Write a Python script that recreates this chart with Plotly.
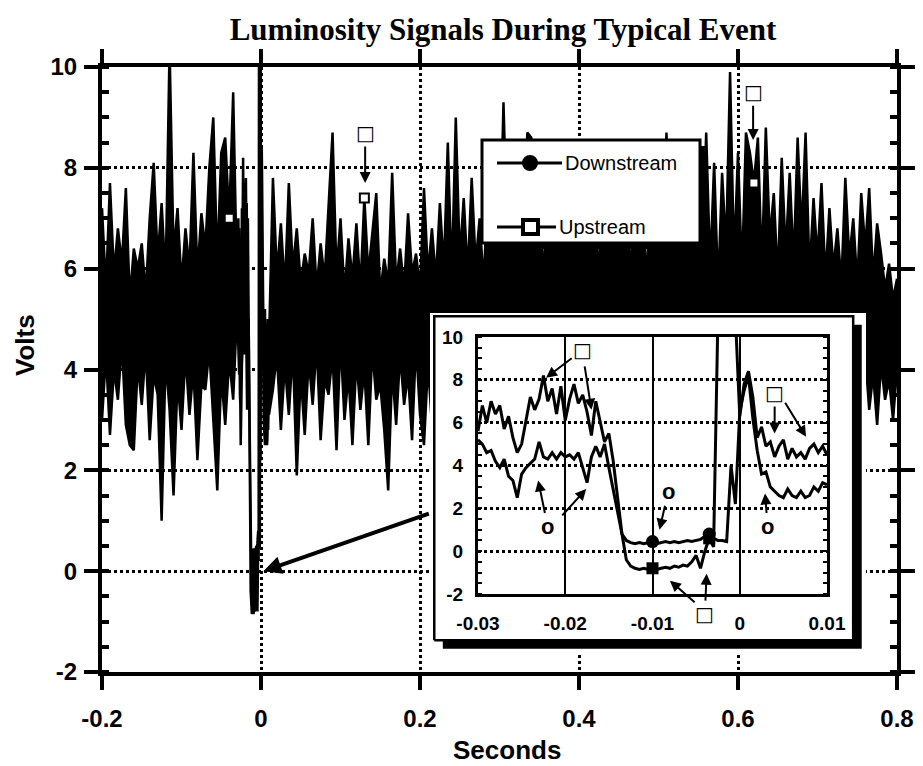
import numpy as np
import plotly.graph_objects as go

# sampling of the long record and of the zoomed window
STEP = 0.005
FINE_STEP = 0.0005

# -0.200 .. -0.035 s
up_left = [7.2, 5.6, 7.7, 5.9, 6.8, 6.1, 7.6, 5.4, 6.4, 6.0,
           6.5, 5.5, 7.0, 8.1, 6.2, 7.3, 5.8, 10.4, 6.3, 7.2,
           5.7, 6.8, 6.0, 8.3, 5.9, 7.1, 6.4, 8.0, 9.0, 6.1,
           8.3, 8.6, 7.0, 9.5]
down_left = [3.0, 4.3, 2.7, 4.0, 3.4, 4.5, 2.9, 2.5, 2.4, 4.1,
             3.3, 4.4, 2.6, 3.9, 3.5, 1.0, 4.2, 3.2, 1.5, 3.8,
             2.8, 4.3, 3.1, 4.0, 2.2, 3.7, 3.6, 4.4, 3.0, 1.6,
             3.9, 2.9, 4.2, 3.4]

# -0.030 .. 0.010 s (also shown in the inset), 11 = off scale
up_zoom = [5.6, 6.8, 6.0, 7.0, 6.4, 6.8, 5.7, 6.3, 5.3, 4.6,
           5.0, 6.1, 7.2, 6.6, 7.1, 8.2, 7.0, 7.6, 6.4, 7.7,
           6.1, 7.1, 7.8, 6.9, 7.3, 6.5, 5.4, 7.0, 6.0, 5.1,
           5.5, 4.2, 2.5, 0.8, -0.4, -0.7, -0.8, -0.85, -0.8, -0.85,
           -0.8, -0.85, -0.8, -0.75, -0.8, -0.7, -0.75, -0.65, -0.7, -0.5,
           -0.2, -0.8, 0.0, 0.6, 0.2, 11.0, 11.0, 11.0, 11.0, 11.0,
           6.3, 7.8, 8.4, 7.2, 5.3, 5.8, 4.9, 5.1, 4.4, 4.9,
           5.2, 4.3, 4.8, 4.4, 4.6, 4.3, 4.8, 5.0, 4.6, 4.9,
           4.5]
down_zoom = [5.2, 5.0, 4.6, 4.7, 4.2, 3.9, 4.3, 3.5, 3.3, 2.5,
             3.6, 3.9, 4.1, 4.3, 5.1, 4.4, 4.3, 4.6, 4.3, 4.6,
             4.4, 4.5, 4.3, 4.6, 3.9, 3.2, 4.4, 4.9, 4.4, 5.0,
             3.9, 2.9, 1.8, 0.8, 0.5, 0.4, 0.35, 0.4, 0.35, 0.4,
             0.45, 0.35, 0.4, 0.45, 0.4, 0.45, 0.4, 0.45, 0.5, 0.45,
             0.5, 0.55, 0.7, 0.8, 0.6, 0.5, 0.5, 0.45, 4.0, 2.2,
             6.5, 7.5, 8.2, 6.2, 4.7, 3.6, 3.7, 3.0, 2.8, 2.6,
             2.5, 2.9, 2.6, 2.5, 2.8, 2.5, 2.6, 3.0, 2.8, 3.2,
             3.1]

# 0.015 .. 0.800 s
up_right = [7.8, 5.9, 6.9, 5.6, 7.7, 6.0, 6.8, 5.7, 6.3, 5.9,
            7.0, 5.6, 6.5, 5.8, 7.2, 8.7, 5.9, 7.0, 5.5, 6.6,
            5.8, 6.9, 5.6, 7.4, 5.9, 6.7, 7.5, 5.5, 6.2, 5.7,
            7.9, 5.7, 6.4, 5.6, 7.1, 5.9, 6.3, 5.6, 7.6, 5.9,
            6.8, 5.8, 7.3, 6.0, 8.5, 5.8, 9.0, 6.2, 7.4, 5.9,
            7.8, 6.1, 7.0, 5.7, 7.5, 6.3, 8.0, 5.9, 9.3, 6.4,
            7.7, 5.8, 8.1, 6.6, 8.7, 8.6, 6.0, 7.9, 5.7, 7.4,
            6.2, 8.0, 5.9, 7.6, 6.5, 8.2, 5.8, 7.3, 6.1, 8.0,
            6.4, 7.7, 5.6, 8.1, 6.3, 7.5, 5.9, 8.3, 6.6, 7.2,
            5.8, 8.0, 6.2, 7.6, 5.5, 8.2, 6.4, 7.4, 6.0, 8.7,
            6.3, 7.8, 5.7, 8.0, 6.5, 7.2, 5.9, 8.3, 6.1, 8.7,
            6.0, 8.1, 5.6, 7.9, 6.4, 9.9, 6.2, 8.3, 5.9, 8.7,
            8.3, 7.7, 8.6, 6.0, 8.8, 6.6, 7.5, 5.8, 8.2, 6.3,
            7.9, 6.1, 8.6, 6.7, 8.7, 5.9, 7.4, 6.2, 7.7, 5.8,
            7.2, 6.0, 6.8, 5.7, 7.8, 6.2, 7.0, 5.7, 7.5, 6.4,
            7.6, 5.8, 6.9, 6.3, 5.6, 6.1, 5.4, 5.8]
down_right = [3.6, 4.3, 2.8, 4.1, 3.1, 4.4, 1.9, 3.9, 2.7, 4.2,
              3.3, 4.5, 2.6, 3.8, 3.5, 4.3, 2.4, 4.6, 3.0, 3.9,
              2.5, 4.2, 3.2, 4.0, 2.5, 4.4, 3.4, 3.7, 2.8, 1.6,
              4.0, 2.9, 4.3, 3.3, 3.9, 2.6, 4.5, 3.1, 2.5, 4.1,
              2.9, 4.3, 3.6, 4.0, 2.7, 4.4, 3.2, 3.8, 2.8, 4.2,
              3.5, 4.1, 2.6, 4.4, 3.1, 3.9, 2.9, 4.5, 3.4, 3.8,
              2.8, 4.2, 3.3, 3.9, 2.6, 4.4, 3.0, 4.1, 2.7, 4.3,
              3.4, 3.9, 2.9, 4.3, 3.1, 3.8, 2.5, 4.2, 3.6, 4.0,
              2.8, 4.4, 3.2, 3.7, 2.6, 4.2, 3.5, 4.0, 2.9, 4.5,
              3.0, 3.9, 2.7, 4.3, 3.3, 4.1, 2.6, 4.4, 3.1, 3.8,
              2.9, 4.2, 3.4, 3.9, 2.5, 4.3, 3.2, 4.0, 2.8, 4.4,
              3.1, 3.9, 2.6, 4.2, 3.5, 4.0, 2.9, 4.5, 3.0, 3.7,
              2.7, 4.3, 3.3, 3.9, 2.8, 4.4, 3.1, 4.1, 2.6, 4.2,
              3.4, 3.8, 2.9, 4.3, 3.2, 4.0, 2.7, 4.2, 3.5, 3.9,
              3.0, 4.4, 2.8, 4.1, 3.3, 4.2, 2.9, 3.9, 3.1, 4.3,
              3.2, 3.9, 2.9, 4.1, 3.4, 3.8, 3.0, 4.0]

# times where the symbols are drawn on the curves
up_marks_main = [-0.04, 0.13, 0.62]
zoom_marks = [-0.01, -0.0035]

x_ticks = [-0.2, 0, 0.2, 0.4, 0.6, 0.8]
x_ticktext = ['-0.2', '0', '0.2', '0.4', '0.6', '0.8']
y_ticks = [-2, 0, 2, 4, 6, 8, 10]
y_ticktext = ['-2', '0', '2', '4', '6', '8', '10']
inset_x_ticks = [-0.03, -0.02, -0.01, 0, 0.01]
inset_x_ticktext = ['-0.03', '-0.02', '-0.01', '0', '0.01']

t_left = np.round(-0.2 + STEP * np.arange(len(up_left)), 4)
t_zoom = np.round(-0.03 + FINE_STEP * np.arange(len(up_zoom)), 4)
t_right = np.round(0.015 + STEP * np.arange(len(up_right)), 4)

t_all = np.concatenate([t_left, t_zoom, t_right])
up_all = np.concatenate([up_left, up_zoom, up_right])
down_all = np.concatenate([down_left, down_zoom, down_right])

SANS = 'Liberation Sans, Arial, sans-serif'
OFF = 8                      # page margin the browser adds around the figure
W, H = 923 - OFF, 766 - OFF
PL, PR, PT, PB = 102, 897, 67, 672   # plot area in window pixels


def fx(px):
    return (px - PL) / (PR - PL)


def fy(py):
    return (PB - py) / (PB - PT)


fig = go.Figure()

# main record: the two traces overlap into one dark band on the scope photo
fig.add_trace(go.Scatter(x=t_all, y=down_all, mode='lines', line=dict(color='black', width=2.5),
                         showlegend=False, hoverinfo='skip'))
fig.add_trace(go.Scatter(x=t_all, y=up_all, mode='lines', line=dict(color='black', width=2.5),
                         fill='tonexty', fillcolor='black', showlegend=False, hoverinfo='skip'))
m = np.isin(t_all, up_marks_main)
fig.add_trace(go.Scatter(x=t_all[m], y=up_all[m], mode='markers', showlegend=False, hoverinfo='skip',
                         marker=dict(symbol='square', size=9, color='white',
                                     line=dict(color='black', width=2))))

# white framed box behind the inset (with its drop shadow)
fig.add_trace(go.Scatter(x=[0.02, 1, 1, 0.02, 0.02], y=[0, 0, 0.975, 0.975, 0], xaxis='x2', yaxis='y2',
                         fill='toself', fillcolor='black', line=dict(width=0), mode='lines',
                         showlegend=False, hoverinfo='skip'))
fig.add_trace(go.Scatter(x=[0, 0.98, 0.98, 0, 0], y=[0.025, 0.025, 1, 1, 0.025], xaxis='x2', yaxis='y2',
                         fill='toself', fillcolor='white', line=dict(width=2.5, color='black'), mode='lines',
                         showlegend=False, hoverinfo='skip'))

# inset: zoom around the event
for y in (down_zoom, up_zoom):
    fig.add_trace(go.Scatter(x=t_zoom, y=y, xaxis='x3', yaxis='y3', mode='lines',
                             line=dict(color='black', width=3), showlegend=False, hoverinfo='skip'))
mz = np.isin(t_zoom, zoom_marks)
fig.add_trace(go.Scatter(x=t_zoom[mz], y=np.array(down_zoom)[mz], xaxis='x3', yaxis='y3', mode='markers',
                         marker=dict(symbol='circle', size=13, color='black'), showlegend=False, hoverinfo='skip'))
fig.add_trace(go.Scatter(x=t_zoom[mz], y=np.array(up_zoom)[mz], xaxis='x3', yaxis='y3', mode='markers',
                         marker=dict(symbol='square', size=12, color='black'), showlegend=False, hoverinfo='skip'))

tick_font = dict(family=SANS, size=24, color='black', weight='bold')
inset_font = dict(family=SANS, size=19, color='black', weight='bold')

fig.update_layout(
    width=W, height=H,
    margin=dict(l=PL - OFF, r=923 - PR, t=PT - OFF, b=766 - PB, autoexpand=False),
    paper_bgcolor='white', plot_bgcolor='white',
    title=dict(text='Luminosity Signals During Typical Event', x=fx(503), xref='paper', xanchor='center',
               y=1 - (29 - OFF) / H, yref='container', yanchor='middle',
               font=dict(family='Liberation Serif, Times New Roman, serif', size=31, color='black',
                         weight='bold')),
    xaxis=dict(domain=[0, 1], range=[-0.2, 0.8], tickvals=x_ticks, ticktext=x_ticktext,
               showline=True, linewidth=4, linecolor='black', mirror='allticks',
               ticks='outside', ticklen=14, tickwidth=4, tickcolor='black',
               showgrid=True, gridcolor='black', gridwidth=2.5, griddash='dot', zeroline=False,
               tickfont=tick_font, ticklabelstandoff=8, fixedrange=True),
    yaxis=dict(domain=[0, 1], range=[-2, 10], tickvals=y_ticks, ticktext=y_ticktext,
               showline=True, linewidth=4, linecolor='black', mirror='allticks',
               ticks='outside', ticklen=14, tickwidth=4, tickcolor='black',
               minor=dict(tickmode='linear', tick0=0, dtick=0.5, ticks='inside', ticklen=7,
                          tickwidth=3.5, tickcolor='black', showgrid=False),
               showgrid=True, gridcolor='black', gridwidth=2.5, griddash='dot', zeroline=False,
               tickfont=tick_font, ticklabelstandoff=2, fixedrange=True),
    xaxis2=dict(domain=[fx(430), fx(866)], range=[-0.01, 1.01], anchor='y2', visible=False, fixedrange=True),
    yaxis2=dict(domain=[fy(652), fy(313)], range=[-0.01, 1.01], anchor='x2', visible=False, fixedrange=True),
    xaxis3=dict(domain=[fx(478), fx(827)], range=[-0.03, 0.01], anchor='y3',
                tickvals=inset_x_ticks, ticktext=inset_x_ticktext,
                showline=True, linewidth=3, linecolor='black', mirror=True, ticks='',
                showgrid=True, gridcolor='black', gridwidth=1.5, zeroline=False,
                tickfont=inset_font, ticklabelstandoff=10, fixedrange=True),
    yaxis3=dict(domain=[fy(594), fy(337)], range=[-2, 10], anchor='x3', tickvals=y_ticks,
                ticktext=y_ticktext,
                showline=True, linewidth=3, linecolor='black', mirror='allticks', ticks='',
                minor=dict(tickmode='linear', tick0=0, dtick=0.5, ticks='inside', ticklen=4,
                           tickwidth=2, tickcolor='black', showgrid=False),
                showgrid=True, gridcolor='black', gridwidth=2.5, griddash='dot', zeroline=False,
                tickfont=inset_font, ticklabelstandoff=8, fixedrange=True),
)

# hand drawn legend box
shapes = [
    dict(type='rect', xref='paper', yref='paper', x0=fx(488), x1=fx(706), y0=fy(249), y1=fy(146),
         fillcolor='black', line=dict(width=0), layer='above'),
    dict(type='rect', xref='paper', yref='paper', x0=fx(482), x1=fx(700), y0=fy(243), y1=fy(140),
         fillcolor='white', line=dict(color='black', width=3), layer='above'),
    dict(type='line', xref='paper', yref='paper', x0=fx(497), x1=fx(562), y0=fy(163), y1=fy(163),
         line=dict(color='black', width=3), layer='above'),
    dict(type='circle', xref='paper', yref='paper', x0=fx(523), x1=fx(537), y0=fy(170), y1=fy(156),
         fillcolor='black', line=dict(color='black', width=2), layer='above'),
    dict(type='line', xref='paper', yref='paper', x0=fx(497), x1=fx(556), y0=fy(227), y1=fy(227),
         line=dict(color='black', width=3), layer='above'),
    dict(type='rect', xref='paper', yref='paper', x0=fx(523), x1=fx(538), y0=fy(234), y1=fy(220),
         fillcolor='white', line=dict(color='black', width=4), layer='above'),
]
fig.update_layout(shapes=shapes)

legend_font = dict(family=SANS, size=20, color='black')
sym_font = dict(family='DejaVu Sans', size=20, color='black')
o_font = dict(family=SANS, size=22, color='black', weight='bold')
label_font = dict(family=SANS, size=26, color='black', weight='bold')


def arrow(xr, yr, tail, head, text='', font=sym_font):
    return dict(xref=xr, yref=yr, axref=xr, ayref=yr, x=head[0], y=head[1], ax=tail[0], ay=tail[1],
                text=text, font=font, showarrow=True, arrowhead=2, arrowsize=1.1, arrowwidth=2,
                arrowcolor='black', standoff=0, startstandoff=0)


annotations = [
    dict(xref='paper', yref='paper', x=fx(563), y=fy(163), text='Downstream', showarrow=False,
         xanchor='left', yanchor='middle', font=legend_font),
    dict(xref='paper', yref='paper', x=fx(557), y=fy(227), text='Upstream', showarrow=False,
         xanchor='left', yanchor='middle', font=legend_font),
    dict(xref='paper', yref='paper', x=fx(25), y=fy(345), text='Volts', textangle=-90, showarrow=False,
         xanchor='center', yanchor='middle', font=label_font),
    dict(xref='paper', yref='paper', x=fx(507), y=fy(750), text='Seconds', showarrow=False,
         xanchor='center', yanchor='middle', font=label_font),
    # main panel markers
    arrow('x', 'y', (0.131, 8.69), (0.131, 7.7), '□'),
    arrow('x', 'y', (0.619, 9.5), (0.619, 8.55), '□'),
    # pointer from the inset to the event
    dict(xref='x', yref='y', axref='x', ayref='y', x=0.003, y=0.0, ax=0.213, ay=1.15, text='',
         showarrow=True, arrowhead=2, arrowsize=0.9, arrowwidth=4, arrowcolor='black'),
    # inset markers
    arrow('x3', 'y3', (-0.018, 9.4), (-0.0222, 8.1), '□'),
    arrow('x3', 'y3', (-0.0178, 8.7), (-0.017, 6.6)),
    arrow('x3', 'y3', (-0.022, 1.13), (-0.0231, 3.3), 'o', o_font),
    arrow('x3', 'y3', (-0.0205, 1.6), (-0.0176, 2.9)),
    arrow('x3', 'y3', (-0.0082, 2.77), (-0.0092, 1.0), 'o', o_font),
    arrow('x3', 'y3', (-0.0040, -2.94), (-0.0038, -1.06), '□'),
    arrow('x3', 'y3', (-0.0050, -2.45), (-0.0080, -1.38)),
    arrow('x3', 'y3', (0.0040, 7.38), (0.0040, 5.5), '□'),
    arrow('x3', 'y3', (0.0051, 7.0), (0.0076, 5.34)),
    arrow('x3', 'y3', (0.0032, 1.13), (0.0029, 2.69), 'o', o_font),
]
fig.update_layout(annotations=annotations)

fig.write_html('out.html')
